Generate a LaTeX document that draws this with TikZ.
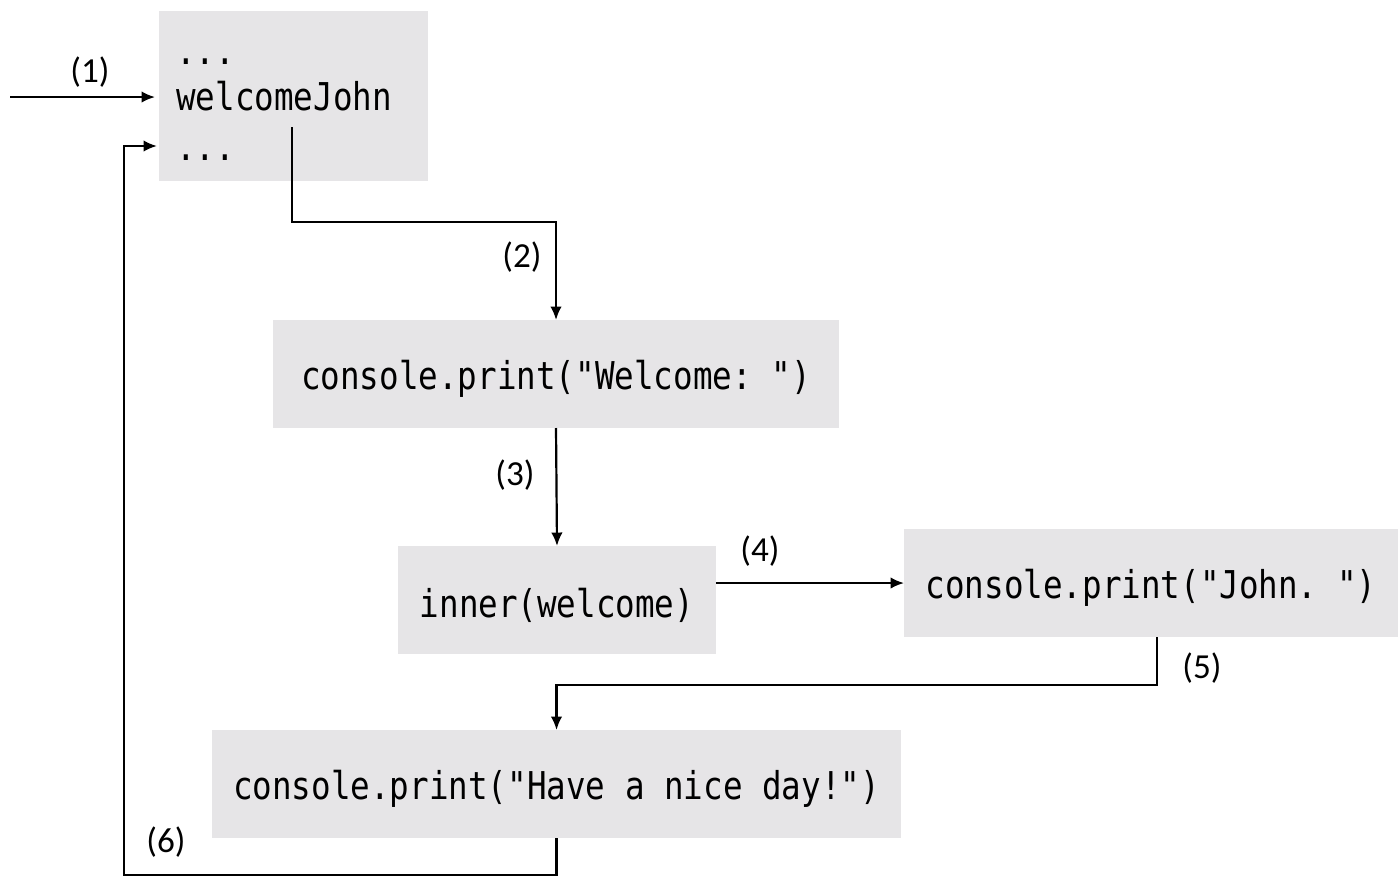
\documentclass[tikz,border=0pt]{standalone}
\usepackage{fontspec}
\setmonofont[FakeStretch=0.85]{DejaVu Sans Mono}
\newfontfamily\lblfont{Carlito}
\usetikzlibrary{arrows.meta,calc}
\definecolor{boxgray}{HTML}{E6E5E7}
\newcommand\lowtxt[1]{\raisebox{0.2cm}{\vphantom{(}}#1}
\begin{document}
\begin{tikzpicture}[x=0.02cm,y=-0.02cm,
  box/.style={fill=boxgray, inner sep=0pt, outer sep=0pt, font=\ttfamily\fontsize{21.8}{26}\selectfont},
  code/.style={inner sep=0pt, font=\ttfamily\fontsize{21.8}{26}\selectfont},
  lbl/.style={inner sep=0pt, font=\lblfont\fontsize{20}{24}\selectfont},
  arr/.style={line width=1.25pt, -{Latex[length=2.7mm,width=2.3mm]}}]
\useasboundingbox (0,0) rectangle (1398,877);
% boxes
\node[box, minimum width=5.38cm, minimum height=3.40cm] (A) at (293.5,96) {};
\node[code, anchor=base west] (d1) at (176,64) {...};
\node[code, anchor=base west] (wj) at (176,110) {welcomeJohn};
\node[code, anchor=base west] (d2) at (176,160) {...};
\node[box, minimum width=11.32cm, minimum height=2.16cm] (B) at (556,374) {\lowtxt{console.print("Welcome: ")}};
\node[box, minimum width=6.36cm, minimum height=2.16cm] (C) at (557,600) {\lowtxt{inner(welcome)}};
\node[box, minimum width=9.88cm, minimum height=2.16cm] (D) at (1151,583) {\lowtxt{console.print("John. ")}};
\node[box, minimum width=13.78cm, minimum height=2.16cm] (E) at (556.5,784) {\lowtxt{console.print("Have a nice day!")}};
% coordinates
\coordinate (in1) at (10,97);
\coordinate (s2) at (292,127);
\coordinate (s5) at (1157,637);
\coordinate (c6) at (124,875);
\coordinate (e6) at (157,146);
% connectors
\draw[arr] (in1) -- ([xshift=-0.08cm]A.west |- in1);
\draw[arr] (s2) |- ($(B.north)+(0,-98)$) -- (B.north);
\draw[arr] (B.south) -- (C.north);
\draw[arr] (C.east |- D.west) -- (D.west);
\draw[arr] (s5) |- ($(E.north)+(0,-45)$) -- (E.north);
\draw[arr] (E.south) |- (c6) |- (e6);
% labels
\node[lbl] (l1) at (90,72) {(1)};
\node[lbl] (l2) at (522,257) {(2)};
\node[lbl] (l3) at (515,475) {(3)};
\node[lbl] (l4) at (760,551) {(4)};
\node[lbl] (l5) at (1202,668) {(5)};
\node[lbl] (l6) at (166,842) {(6)};
\end{tikzpicture}
\end{document}
